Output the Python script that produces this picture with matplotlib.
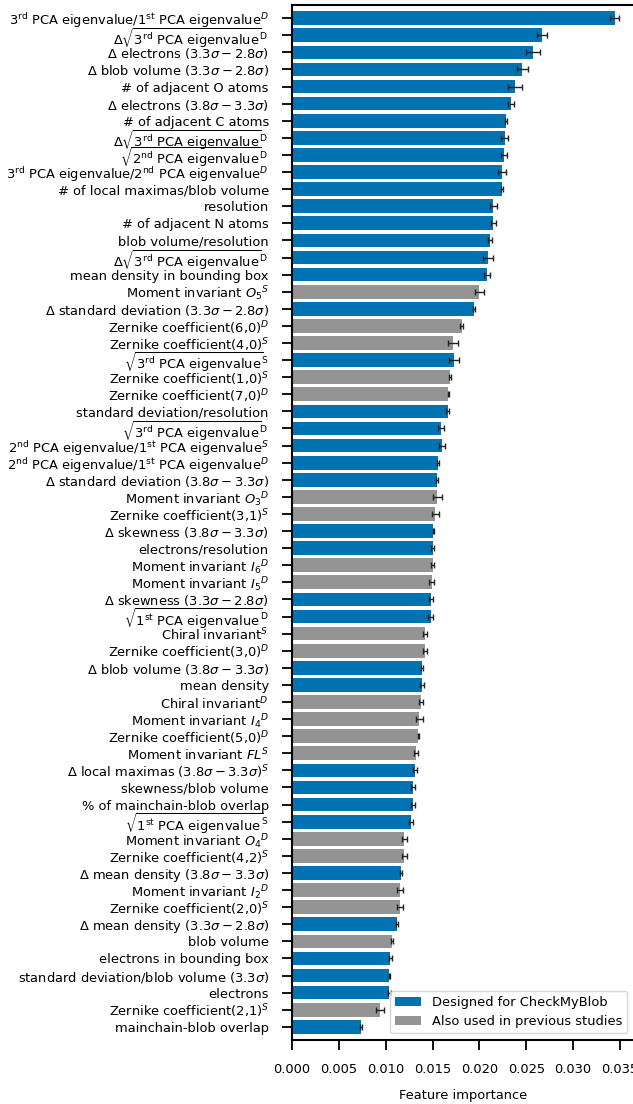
import matplotlib
matplotlib.use("Agg")
import matplotlib.pyplot as plt
from matplotlib.patches import Patch

labels = [
    r"3$^{\rm rd}$ PCA eigenvalue/1$^{\rm st}$ PCA eigenvalue$^D$",
    r"$\Delta\sqrt{3^{\rm rd}\ \rm PCA\ eigenvalue}^D$",
    r"$\Delta$ electrons ($3.3\sigma - 2.8\sigma$)",
    r"$\Delta$ blob volume ($3.3\sigma - 2.8\sigma$)",
    "# of adjacent O atoms",
    r"$\Delta$ electrons ($3.8\sigma - 3.3\sigma$)",
    "# of adjacent C atoms",
    r"$\Delta\sqrt{3^{\rm rd}\ \rm PCA\ eigenvalue}^D$",
    r"$\sqrt{2^{\rm nd}\ \rm PCA\ eigenvalue}^D$",
    r"3$^{\rm rd}$ PCA eigenvalue/2$^{\rm nd}$ PCA eigenvalue$^D$",
    "# of local maximas/blob volume",
    "resolution",
    "# of adjacent N atoms",
    "blob volume/resolution",
    r"$\Delta\sqrt{3^{\rm rd}\ \rm PCA\ eigenvalue}^D$",
    "mean density in bounding box",
    r"Moment invariant $O_5{}^S$",
    r"$\Delta$ standard deviation ($3.3\sigma - 2.8\sigma$)",
    r"Zernike coefficient(6,0)$^D$",
    r"Zernike coefficient(4,0)$^S$",
    r"$\sqrt{3^{\rm rd}\ \rm PCA\ eigenvalue}^S$",
    r"Zernike coefficient(1,0)$^S$",
    r"Zernike coefficient(7,0)$^D$",
    "standard deviation/resolution",
    r"$\sqrt{3^{\rm rd}\ \rm PCA\ eigenvalue}^D$",
    r"2$^{\rm nd}$ PCA eigenvalue/1$^{\rm st}$ PCA eigenvalue$^S$",
    r"2$^{\rm nd}$ PCA eigenvalue/1$^{\rm st}$ PCA eigenvalue$^D$",
    r"$\Delta$ standard deviation ($3.8\sigma - 3.3\sigma$)",
    r"Moment invariant $O_3{}^D$",
    r"Zernike coefficient(3,1)$^S$",
    r"$\Delta$ skewness ($3.8\sigma - 3.3\sigma$)",
    "electrons/resolution",
    r"Moment invariant $I_6{}^D$",
    r"Moment invariant $I_5{}^D$",
    r"$\Delta$ skewness ($3.3\sigma - 2.8\sigma$)",
    r"$\sqrt{1^{\rm st}\ \rm PCA\ eigenvalue}^D$",
    r"Chiral invariant$^S$",
    r"Zernike coefficient(3,0)$^D$",
    r"$\Delta$ blob volume ($3.8\sigma - 3.3\sigma$)",
    "mean density",
    r"Chiral invariant$^D$",
    r"Moment invariant $I_4{}^D$",
    r"Zernike coefficient(5,0)$^D$",
    r"Moment invariant $FL^S$",
    r"$\Delta$ local maximas ($3.8\sigma - 3.3\sigma$)$^S$",
    "skewness/blob volume",
    "% of mainchain-blob overlap",
    r"$\sqrt{1^{\rm st}\ \rm PCA\ eigenvalue}^S$",
    r"Moment invariant $O_4{}^D$",
    r"Zernike coefficient(4,2)$^S$",
    r"$\Delta$ mean density ($3.8\sigma - 3.3\sigma$)",
    r"Moment invariant $I_2{}^D$",
    r"Zernike coefficient(2,0)$^S$",
    r"$\Delta$ mean density ($3.3\sigma - 2.8\sigma$)",
    "blob volume",
    "electrons in bounding box",
    r"standard deviation/blob volume ($3.3\sigma$)",
    "electrons",
    r"Zernike coefficient(2,1)$^S$",
    "mainchain-blob overlap",
]

importance = [
    0.03445, 0.02665, 0.02572, 0.0246, 0.0238, 0.0234, 0.0228, 0.0227, 0.0226, 0.0224,
    0.0224, 0.0215, 0.0215, 0.0211, 0.0209, 0.0208, 0.0200, 0.0194, 0.0181, 0.0172,
    0.0173, 0.0169, 0.0167, 0.0166, 0.0159, 0.0160, 0.0156, 0.0155, 0.0155, 0.0153,
    0.0151, 0.0150, 0.0150, 0.0149, 0.0148, 0.0148, 0.0142, 0.0142, 0.0139, 0.0139,
    0.0138, 0.0136, 0.0135, 0.0132, 0.0131, 0.0129, 0.0129, 0.0127, 0.0120, 0.0120,
    0.0116, 0.0115, 0.0115, 0.0112, 0.0107, 0.0105, 0.0104, 0.0104, 0.0094, 0.0074,
]

errors = [
    0.00048, 0.00055, 0.0007, 0.00055, 0.0007, 0.0003, 0.0001, 0.0004, 0.0003, 0.0004,
    0.0001, 0.0004, 0.0003, 0.0002, 0.0005, 0.0003, 0.00045, 0.0001, 0.0002, 0.0005,
    0.0005, 0.0001, 0.0001, 0.0002, 0.0003, 0.0003, 0.0001, 0.0001, 0.0005, 0.0004,
    0.0001, 0.0002, 0.0002, 0.0003, 0.0002, 0.0003, 0.0002, 0.0002, 0.0001, 0.0002,
    0.0002, 0.0004, 0.0001, 0.0002, 0.0002, 0.0002, 0.0002, 0.0002, 0.0003, 0.0003,
    0.0001, 0.0003, 0.0003, 0.0001, 0.0001, 0.0002, 0.0001, 0.0002, 0.0004, 0.0001,
]

# "N" = designed for CheckMyBlob, "P" = also used in previous studies
groups = [
    "N", "N", "N", "N", "N", "N", "N", "N", "N", "N",
    "N", "N", "N", "N", "N", "N", "P", "N", "P", "P",
    "N", "P", "P", "N", "N", "N", "N", "N", "P", "P",
    "N", "N", "P", "P", "N", "N", "P", "P", "N", "N",
    "P", "P", "P", "P", "N", "N", "N", "N", "P", "P",
    "N", "P", "P", "N", "P", "N", "N", "N", "P", "N",
]

legend_labels = ["Designed for CheckMyBlob", "Also used in previous studies"]
BLUE = "#0173B2"
GRAY = "#949494"
color_map = {"N": BLUE, "P": GRAY}

FS = 9.4
plt.rcParams["font.family"] = ["DejaVu Sans"]
plt.rcParams["mathtext.fontset"] = "dejavusans"

W, H = 633, 1104
fig = plt.figure(figsize=(W / 100, H / 100), dpi=100)
left, right, top, bottom = 292, 634, 5, 1040
ax = fig.add_axes([left / W, 1 - bottom / H, (right - left) / W, (bottom - top) / H])

ypos = list(range(len(labels)))
ax.barh(ypos, importance, height=0.8,
        color=[color_map[g] for g in groups],
        xerr=errors, error_kw=dict(ecolor="#222222", elinewidth=1.0, capsize=2.5, capthick=1.0))

ax.set_yticks(ypos)
ax.set_yticklabels(labels, fontsize=FS)
ax.set_ylim(59.77, -0.77)
ax.set_xlim(0, 0.0365)
ax.set_xticks([0.000, 0.005, 0.010, 0.015, 0.020, 0.025, 0.030, 0.035])
ax.set_xticklabels(["0.000", "0.005", "0.010", "0.015", "0.020", "0.025", "0.030", "0.035"], fontsize=FS)
ax.set_xlabel("Feature importance", fontsize=FS, labelpad=9)

for s in ["left", "top", "bottom"]:
    ax.spines[s].set_linewidth(1.5)
ax.spines["right"].set_visible(False)
ax.tick_params(axis="both", length=7.2, width=1.3, pad=9.5, color="black")

handles = [Patch(facecolor=BLUE), Patch(facecolor=GRAY)]
ax.legend(handles, legend_labels, loc="lower right", fontsize=FS)

fig.savefig("out.png", dpi=100)
